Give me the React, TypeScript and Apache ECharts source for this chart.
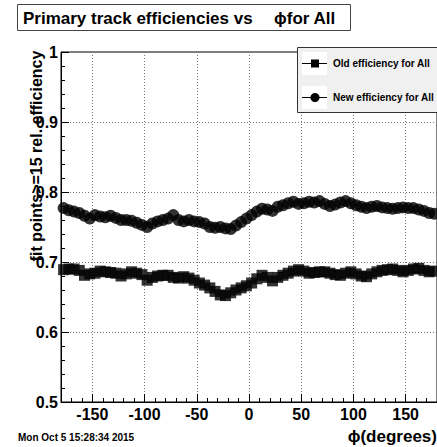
import React, { useEffect, useRef } from "react";
import * as echarts from "echarts";

const phiCenters = [
  -177.5, -172.5, -167.5, -162.5, -157.5, -152.5, -147.5, -142.5, -137.5, -132.5,
  -127.5, -122.5, -117.5, -112.5, -107.5, -102.5, -97.5, -92.5, -87.5, -82.5,
  -77.5, -72.5, -67.5, -62.5, -57.5, -52.5, -47.5, -42.5, -37.5, -32.5,
  -27.5, -22.5, -17.5, -12.5, -7.5, -2.5, 2.5, 7.5, 12.5, 17.5,
  22.5, 27.5, 32.5, 37.5, 42.5, 47.5, 52.5, 57.5, 62.5, 67.5,
  72.5, 77.5, 82.5, 87.5, 92.5, 97.5, 102.5, 107.5, 112.5, 117.5,
  122.5, 127.5, 132.5, 137.5, 142.5, 147.5, 152.5, 157.5, 162.5, 167.5,
  172.5, 177.5,
];

const oldEfficiency = [
  0.689, 0.690, 0.690, 0.688, 0.681, 0.683, 0.684, 0.687, 0.686, 0.685,
  0.684, 0.680, 0.683, 0.686, 0.684, 0.682, 0.674, 0.678, 0.680, 0.681,
  0.681, 0.678, 0.677, 0.679, 0.677, 0.674, 0.670, 0.667, 0.663, 0.658,
  0.653, 0.652, 0.656, 0.660, 0.663, 0.666, 0.670, 0.676, 0.681, 0.678,
  0.673, 0.678, 0.681, 0.684, 0.687, 0.689, 0.687, 0.684, 0.685, 0.686,
  0.686, 0.684, 0.682, 0.681, 0.684, 0.686, 0.683, 0.680, 0.679, 0.683,
  0.686, 0.688, 0.689, 0.690, 0.688, 0.686, 0.688, 0.690, 0.691, 0.688,
  0.686, 0.687,
];

const newEfficiency = [
  0.777, 0.774, 0.772, 0.770, 0.766, 0.762, 0.767, 0.765, 0.764, 0.766,
  0.763, 0.760, 0.760, 0.759, 0.756, 0.753, 0.750, 0.755, 0.758, 0.760,
  0.762, 0.767, 0.760, 0.758, 0.760, 0.758, 0.757, 0.755, 0.750, 0.749,
  0.750, 0.748, 0.747, 0.752, 0.757, 0.762, 0.767, 0.772, 0.776, 0.775,
  0.773, 0.779, 0.781, 0.784, 0.786, 0.783, 0.784, 0.786, 0.785, 0.787,
  0.783, 0.780, 0.782, 0.785, 0.787, 0.784, 0.781, 0.779, 0.777, 0.779,
  0.780, 0.778, 0.777, 0.776, 0.777, 0.778, 0.777, 0.777, 0.775, 0.773,
  0.770, 0.769,
];

const xMajorTicks = [-150, -100, -50, 0, 50, 100, 150];

const titleText = "Primary track efficiencies vs";
const titleTail = "ϕfor All";
const yTitle = "fit points>=15 rel. efficiency";
const xTitle = "ϕ(degrees)";
const dateText = "Mon Oct 5 15:28:34 2015";
const legendOld = "Old efficiency for All";
const legendNew = "New efficiency for All";

const FONT = '"Liberation Sans", Arial, Helvetica, sans-serif';

export default function App() {
  const ref = useRef<HTMLDivElement>(null);
  useEffect(() => {
    if (!ref.current) return;
    const chart = echarts.init(ref.current, undefined, { renderer: "svg" });
    const gridLine = { show: true, lineStyle: { color: "#777", type: [1, 2] as any, width: 1 } };
    const option: any = {
      animation: false,
      backgroundColor: "#fff",
      textStyle: { fontFamily: FONT },
      grid: {
        left: 61,
        top: 52,
        width: 378,
        height: 350,
        show: true,
        borderColor: "#000",
        borderWidth: 1,
        backgroundColor: "transparent",
        containLabel: false,
      },
      xAxis: [
        {
          type: "value",
          min: -180,
          max: 180,
          interval: 10,
          position: "bottom",
          axisLine: { show: true, onZero: false, lineStyle: { color: "#000", width: 1 } },
          axisTick: { show: true, inside: true, length: 4, lineStyle: { color: "#000" } },
          axisLabel: { show: false },
          splitLine: { show: false },
        },
        {
          type: "value",
          min: -180,
          max: 180,
          position: "bottom",
          axisLine: { show: false, onZero: false },
          axisTick: {
            show: true,
            inside: true,
            length: 8,
            customValues: xMajorTicks,
            lineStyle: { color: "#000" },
          },
          axisLabel: {
            show: true,
            customValues: xMajorTicks,
            margin: 4,
            color: "#000",
            fontSize: 16,
            fontWeight: "bold",
            fontFamily: FONT,
          },
          splitLine: gridLine,
        },
      ],
      yAxis: {
        type: "value",
        min: 0.5,
        max: 1.0,
        interval: 0.1,
        axisLine: { show: true, onZero: false, lineStyle: { color: "#000", width: 1 } },
        axisTick: { show: true, inside: true, length: 8, lineStyle: { color: "#000" } },
        minorTick: { show: true, splitNumber: 5, length: 4, lineStyle: { color: "#000" } },
        axisLabel: {
          margin: 3,
          color: "#000",
          fontSize: 16,
          fontWeight: "bold",
          fontFamily: FONT,
          formatter: (v: number) => String(Math.round(v * 10) / 10),
        },
        splitLine: gridLine,
      },
      series: [
        {
          name: legendOld,
          type: "scatter",
          xAxisIndex: 0,
          symbol: "rect",
          symbolSize: 11,
          itemStyle: { color: "#000" },
          data: phiCenters.map((p, i) => [p, oldEfficiency[i]]),
          clip: false,
        },
        {
          name: legendNew,
          type: "scatter",
          xAxisIndex: 0,
          symbol: "circle",
          symbolSize: 12,
          itemStyle: { color: "#000" },
          data: phiCenters.map((p, i) => [p, newEfficiency[i]]),
          clip: false,
        },
      ],
      graphic: [
        {
          type: "rect",
          shape: { x: 17.5, y: 4.5, width: 333, height: 26 },
          style: { fill: "#fff", stroke: "#444", lineWidth: 1 },
          z: 10,
        },
        {
          type: "text",
          x: 23,
          y: 18,
          style: {
            text: titleText,
            font: `bold 17px ${FONT}`,
            fill: "#000",
            verticalAlign: "middle",
          },
          z: 11,
        },
        {
          type: "text",
          x: 274,
          y: 18,
          style: {
            text: titleTail,
            font: `bold 17px ${FONT}`,
            fill: "#000",
            verticalAlign: "middle",
          },
          z: 11,
        },
        {
          type: "text",
          x: 36,
          y: 156,
          rotation: Math.PI / 2,
          style: {
            text: yTitle,
            font: `bold 16px ${FONT}`,
            fill: "#000",
            align: "center",
            verticalAlign: "middle",
          },
          z: 11,
        },
        {
          type: "text",
          x: 437,
          y: 436,
          style: {
            text: xTitle,
            font: `bold 17px ${FONT}`,
            fill: "#000",
            align: "right",
            verticalAlign: "middle",
          },
          z: 11,
        },
        {
          type: "text",
          x: 18,
          y: 437,
          style: {
            text: dateText,
            font: `bold 10px ${FONT}`,
            fill: "#000",
            verticalAlign: "middle",
          },
          z: 11,
        },
        {
          type: "rect",
          shape: { x: 297.5, y: 47.5, width: 150, height: 65 },
          style: { fill: "#f0f0f0", stroke: "#333", lineWidth: 1 },
          z: 10,
        },
        {
          type: "rect",
          shape: { x: 302, y: 52, width: 25, height: 23 },
          style: { fill: "#fff" },
          z: 11,
        },
        {
          type: "rect",
          shape: { x: 302, y: 86, width: 25, height: 23 },
          style: { fill: "#fff" },
          z: 11,
        },
        {
          type: "line",
          shape: { x1: 302, y1: 63.5, x2: 327, y2: 63.5 },
          style: { stroke: "#000", lineWidth: 1 },
          z: 12,
        },
        {
          type: "rect",
          shape: { x: 311, y: 59.5, width: 8, height: 8 },
          style: { fill: "#000" },
          z: 13,
        },
        {
          type: "line",
          shape: { x1: 302, y1: 97.5, x2: 327, y2: 97.5 },
          style: { stroke: "#000", lineWidth: 1 },
          z: 12,
        },
        {
          type: "circle",
          shape: { cx: 315, cy: 97.5, r: 4.5 },
          style: { fill: "#000" },
          z: 13,
        },
        {
          type: "text",
          x: 333,
          y: 63.5,
          style: {
            text: legendOld,
            font: `bold 10px ${FONT}`,
            fill: "#000",
            verticalAlign: "middle",
          },
          z: 13,
        },
        {
          type: "text",
          x: 333,
          y: 97.5,
          style: {
            text: legendNew,
            font: `bold 10px ${FONT}`,
            fill: "#000",
            verticalAlign: "middle",
          },
          z: 13,
        },
      ],
    };
    chart.setOption(option);
    return () => chart.dispose();
  }, []);
  return (
    <div
      ref={ref}
      style={{ position: "fixed", left: 0, top: 0, width: 437, height: 447, background: "#fff" }}
    />
  );
}
